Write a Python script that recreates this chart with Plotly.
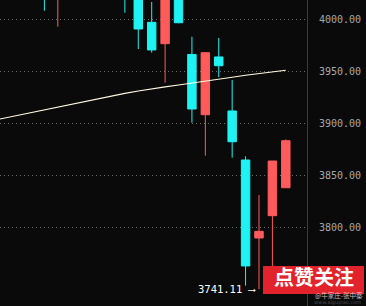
import plotly.graph_objects as go

# ---- data ----
idx    = [0, 1, 6, 7, 8, 9, 10, 11, 12, 13, 14, 15, 16, 17, 18]
opens  = [4040, 4025, 4035, 4022, 3997.1, 3976.6, 4030, 3966.3, 3908.5, 3963.9, 3912.1, 3865.1, 3790.3, 3811.7, 3838.5]
highs  = [4045, 4048, 4040, 4028, 4016.6, 4030, 4035, 3983.3, 3968.0, 3982.1, 3941.8, 3868.6, 3831.5, 3864.1, 3884.8]
lows   = [4008.2, 3992.9, 4006.3, 3971.5, 3968.0, 3939.2, 3996.2, 3900.9, 3869.2, 3944.7, 3867.3, 3744.6, 3741.11, 3748, 3838.5]
closes = [4025, 4040, 4022, 3990.7, 3970.6, 4025, 3996.7, 3914.0, 3968.0, 3955.5, 3882.6, 3763.5, 3796.7, 3864.1, 3883.6]

ma_idx = list(range(-4, 19))
ma_val = [3902.6, 3905.3, 3908.0, 3910.6, 3913.3, 3916.1, 3918.8, 3921.6, 3924.3, 3926.7,
          3929.0, 3931.3, 3933.5, 3935.2, 3937.0, 3938.7, 3940.7, 3942.6, 3944.5, 3946.3,
          3948.1, 3949.7, 3951.1]

tick_vals = [3800, 3850, 3900, 3950, 4000]
low_label = "3741.11"
low_index = 16
low_value = 3741.11

UP = "#ff5b5b"
DOWN = "#1ff2f2"

fig = go.Figure()
fig.add_trace(go.Candlestick(
    x=idx, open=opens, high=highs, low=lows, close=closes,
    increasing=dict(line=dict(color=UP, width=1), fillcolor=UP),
    decreasing=dict(line=dict(color=DOWN, width=1), fillcolor=DOWN),
    whiskerwidth=0, showlegend=False, hoverinfo="skip",
))
fig.add_trace(go.Scatter(
    x=ma_idx, y=ma_val, mode="lines",
    line=dict(color="#fffbe0", width=1.1), showlegend=False, hoverinfo="skip",
))

fig.add_annotation(
    x=low_index, y=low_value, xref="x", yref="y",
    text=low_label + " ⟶", showarrow=False, xanchor="right", yanchor="middle",
    xshift=-1, font=dict(family="DejaVu Sans Mono", size=10.5, color="#ffffff"),
)

# watermark overlay
fig.add_shape(type="rect", xref="paper", yref="paper",
              x0=263/307, x1=364/307, y0=(306-294)/306, y1=(306-266)/306,
              fillcolor="#e3232c", line=dict(width=0), layer="above")
fig.add_annotation(xref="paper", yref="paper", x=314/307, y=(306-276.5)/306,
                   text="<b>点赞关注</b>", showarrow=False, xanchor="center", yanchor="middle",
                   borderpad=0,
                   font=dict(family="Noto Sans CJK SC", size=20, color="#ffffff"))
fig.add_annotation(xref="paper", yref="paper", x=364/307, y=(306-295.3)/306,
                   text="@牛家庄-张中秦", showarrow=False, xanchor="right", yanchor="middle",
                   borderpad=0,
                   font=dict(family="Noto Sans CJK SC", size=6.5, color="rgba(255,225,225,0.8)"))
fig.add_annotation(xref="paper", yref="paper", x=362/307, y=-0.004,
                   text="www.aigupiao.com", showarrow=False, xanchor="right", yanchor="bottom",
                   borderpad=0,
                   font=dict(family="DejaVu Sans", size=5, color="rgba(120,120,120,0.6)"))

fig.update_layout(
    width=366, height=306,
    margin=dict(l=0, r=59, t=0, b=0),
    paper_bgcolor="#0a0a0a", plot_bgcolor="#0a0a0a",
    boxgap=0.37, boxgroupgap=0,
    xaxis=dict(range=[-3.31, 19.58], visible=False, rangeslider=dict(visible=False), fixedrange=True),
    yaxis=dict(
        range=[3725.1, 4018.5], side="right", tickvals=tick_vals, tickformat=".2f",
        showgrid=True, gridcolor="#6a6a6a", gridwidth=1, griddash="1px,3px",
        zeroline=False, showline=True, linecolor="#3c3c3c", linewidth=1, mirror=False,
        ticks="", ticklabelstandoff=9,
        tickfont=dict(family="DejaVu Sans Mono", size=10, color="#a8a8a8"),
    ),
)

fig.write_html("out.html")
